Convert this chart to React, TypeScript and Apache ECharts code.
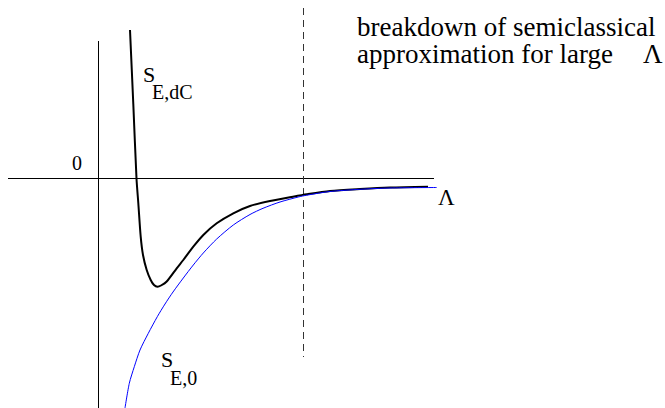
import React, { useEffect, useRef } from "react";
import * as echarts from "echarts";

// Data units: Λ along x, S along y (arbitrary units of the sketch)
const blackCurveLambda = [1.575, 1.74, 1.9, 1.99, 2.11, 2.225, 2.41, 2.61, 2.775, 2.95, 3.125, 3.41, 3.91, 4.24, 4.74, 5.24, 5.91, 6.74, 7.575, 8.575, 9.725, 10.41, 11.575, 13.075, 14.575, 16.475];
const blackCurveS = [7.425, 3.725, 0, -1.225, -2.91, -3.825, -4.575, -5.075, -5.325, -5.41, -5.35, -5.15, -4.49, -4.075, -3.41, -2.825, -2.24, -1.74, -1.375, -1.125, -0.91, -0.79, -0.625, -0.525, -0.45, -0.41];

const blueCurveLambda = [1.325, 1.54, 1.79, 2.075, 2.49, 2.94, 3.325, 3.725, 4.24, 4.74, 5.24, 5.91, 6.74, 7.575, 8.225, 9.075, 9.99, 10.41, 11.575, 13.075, 14.575, 16.91];
const blueCurveS = [-11.475, -10.24, -9.41, -8.575, -7.74, -6.91, -6.275, -5.675, -4.975, -4.325, -3.725, -3.025, -2.325, -1.8, -1.49, -1.175, -0.925, -0.835, -0.65, -0.54, -0.475, -0.45];

const horizontalAxisLambda = [-4.525, 16.775];
const verticalAxisS = [6.875, -11.475];
const breakdownLambda = 10.25;
const breakdownS = [8.525, -8.925];

const xRange = [-4.925, 28.325];
const yRange = [-11.475, 8.925];

const zeroLabel = "0";
const lambdaLabel = "Λ";
const curveDCLabel = ["S", "E,dC"];
const curve0Label = ["S", "E,0"];
const noteLines = ["breakdown of semiclassical", "approximation for large", "Λ"];

function pairs(xs: number[], ys: number[]) {
  return xs.map((x, i) => [x, ys[i]]);
}

export default function App() {
  const ref = useRef<HTMLDivElement>(null);
  useEffect(() => {
    if (!ref.current) return;
    const chart = echarts.init(ref.current, null, { renderer: "svg" });
    const txt = (text: string, x: number, y: number, size: number) => ({
      type: "text",
      x,
      y,
      style: {
        text,
        fill: "#000",
        font: `${size}px "Times New Roman", "Liberation Serif", serif`,
      },
    });
    chart.setOption({
      animation: false,
      backgroundColor: "#fff",
      grid: { left: 0, right: 0, top: 0, bottom: 0, containLabel: false },
      xAxis: { type: "value", min: xRange[0], max: xRange[1], show: false },
      yAxis: { type: "value", min: yRange[0], max: yRange[1], show: false },
      series: [
        {
          type: "line",
          silent: true,
          symbol: "none",
          data: horizontalAxisLambda.map((x) => [x, 0]),
          lineStyle: { color: "#000", width: 1 },
        },
        {
          type: "line",
          silent: true,
          symbol: "none",
          data: verticalAxisS.map((y) => [0, y]),
          lineStyle: { color: "#000", width: 1 },
        },
        {
          type: "line",
          silent: true,
          symbol: "none",
          data: breakdownS.map((y) => [breakdownLambda, y]),
          lineStyle: { color: "#333", width: 1, type: [7, 5] },
        },
        {
          type: "line",
          silent: true,
          symbol: "none",
          smooth: 0.25,
          data: pairs(blackCurveLambda, blackCurveS),
          lineStyle: { color: "#000", width: 2 },
        },
        {
          type: "line",
          silent: true,
          symbol: "none",
          smooth: 0.25,
          data: pairs(blueCurveLambda, blueCurveS),
          lineStyle: { color: "#0000ff", width: 1 },
        },
      ],
      graphic: [
        txt(zeroLabel, 72, 153, 20),
        txt(curveDCLabel[0], 143, 63, 22),
        txt(curveDCLabel[1], 152, 82, 20),
        txt(curve0Label[0], 161, 348, 22),
        txt(curve0Label[1], 170, 368, 20),
        txt(lambdaLabel, 438, 186, 23),
        txt(noteLines[0], 357, 13, 27),
        txt(noteLines[1], 357, 40, 27),
        txt(noteLines[2], 643, 40, 27),
      ],
    });
    return () => chart.dispose();
  }, []);
  return (
    <div
      ref={ref}
      style={{ position: "fixed", left: 0, top: 0, width: 665, height: 408, background: "#fff" }}
    />
  );
}
